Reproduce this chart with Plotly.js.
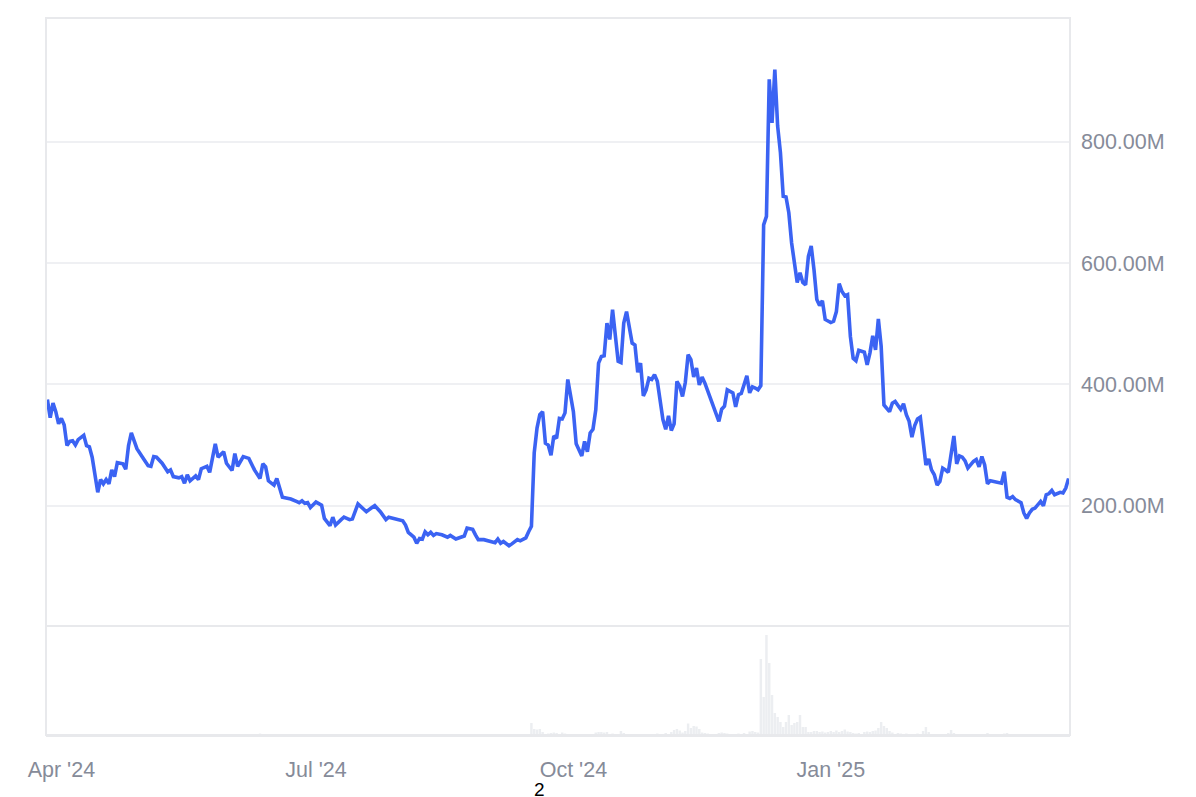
<!DOCTYPE html>
<html>
<head>
<meta charset="utf-8">
<script src="https://cdn.plot.ly/plotly-3.0.1.min.js"></script>
<style>
  html, body { margin: 0; padding: 0; background: #fff; }
  #plot { width: 1196px; height: 797px; }
</style>
</head>
<body>
<div id="plot"></div>
<script>
// days counted from 2024-04-01
const price_day = [-5,-4,-3,-2,-1,0,1,2,3,4,5,6,8,9,10,11,13,14,15,16,17,18,19,20,22,23,24,25,27,28,29,31,32,33,34,36,38,39,40,42,43,44,45,46,48,49,50,52,53,55,56,58,59,61,62,63,65,67,69,71,72,73,74,76,77,79,81,82,84,85,86,87,88,89,91,93,94,96,97,98,100,101,103,104,106,108,109,111,112,114,116,117,119,121,122,123,124,126,127,128,129,130,131,132,133,134,136,138,139,141,143,144,145,147,148,149,151,153,155,156,157,158,160,161,163,164,166,167,168,
  169,170,171,172,173,174,175,176,177,178,179,180,181,182,183,184,185,186,187,188,189,190,191,192,193,194,195,196,197,198,199,200,201,202,203,204,205,206,207,208,209,210,211,212,213,214,215,216,217,218,219,220,221,222,223,224,225,226,227,228,229,230,232,233,235,236,237,238,240,241,242,243,244,245,246,247,248,249,250,
  251,252,253,254,255,256,257,258,259,260,261,263,264,265,266,267,268,269,270,271,272,273,275,276,277,278,279,280,281,282,283,284,285,287,288,289,290,291,292,293,294,296,297,298,300,301,302,303,304,305,306,307,308,309,310,311,312,313,314,315,316,317,319,320,321,322,323,324,326,327,328,329,330,331,332,333,335,336,337,338,339,340,341,343,344,345,346,347,348,350,351,352,353,354,355,357,358,359,360]

// price, millions
const price = [375,345,369,355,335,344,333,299,306,307,300,309,316,299,297,280,222,243,236,243,236,259,248,271,269,260,299,320,294,288,280,266,265,281,280,270,256,259,248,246,248,237,251,241,249,243,261,265,255,302,280,289,270,258,286,265,281,278,259,245,269,264,241,234,245,214,212,211,207,205,208,204,205,197,206,201,179,167,181,168,177,181,177,178,203,194,190,197,200,190,177,181,178,175,175,168,156,148,138,146,145,157,152,156,151,154,152,148,151,145,148,150,163,161,152,144,144,141,139,145,138,141,134,137,144,142,147,157,166,
  287,328,350,355,303,300,283,315,311,344,343,353,408,380,355,302,293,282,306,289,320,326,358,435,446,447,501,474,523,485,438,436,501,520,496,468,465,420,435,381,391,410,408,416,405,375,342,326,348,324,335,405,397,380,403,449,441,412,427,399,412,402,377,366,339,359,364,391,386,363,383,385,402,414,386,396,394,391,398,
  663,677,903,831,919,826,782,710,709,683,633,568,584,568,564,611,628,589,540,530,538,507,502,504,520,566,553,546,548,479,443,439,456,453,432,452,480,457,508,463,366,355,369,372,359,368,350,339,313,332,343,346,303,267,277,259,251,234,240,262,259,255,315,269,282,280,274,262,273,276,264,281,267,236,241,240,238,237,256,214,212,215,210,205,188,179,188,194,196,207,200,218,220,225,218,222,221,229,245]

// volume bars that show above the baseline, millions
const vol_day = [71,168,169,170,171,172,174,175,176,177,179,180,185,191,192,193,194,195,197,200,201,205,210,213,216,218,219,220,221,222,223,224,225,226,227,228,229,230,231,233,235,236,237,238,240,242,244,246,247,248,249,
  250,251,252,253,254,255,256,257,258,259,260,261,262,263,264,265,266,267,268,269,270,271,272,273,274,275,276,277,278,279,280,281,282,283,284,285,287,288,289,290,291,292,293,294,295,296,297,299,300,302,304,306,308,309,310,313,317,318,319,323,331,337,338,345]
const vol = [15,120,60,55,60,30,15,20,25,20,25,15,10,25,30,30,25,30,15,40,20,10,10,15,20,30,50,60,45,25,40,115,70,90,85,60,25,20,15,10,20,25,20,15,10,15,20,35,40,30,25,
  760,380,1000,720,400,220,180,130,80,130,200,100,120,130,200,80,80,30,30,40,40,30,35,25,30,40,30,45,30,40,55,35,30,20,15,20,30,35,30,40,45,70,130,90,70,40,25,20,15,15,10,15,40,80,30,10,20,50,20,10,20,15,20,10]

const price_ticks = [200, 400, 600, 800]

const base = Date.UTC(2024, 3, 1)
function to_date(d) {
    return new Date(base + d * 86400000).toISOString().replace('T', ' ').slice(0, 16)
}

const axis_grey = '#e8e9ec'
const label_grey = '#868b99'
const font_family = 'Liberation Sans, Arial, sans-serif'

const data = []

// volume underneath
data.push({type: 'bar', x: vol_day.map(to_date), y: vol, xaxis: 'x', yaxis: 'y2',
           marker: {color: '#eceef1', line: {width: 0}}, hoverinfo: 'none', showlegend: false})

// price line
data.push({type: 'scatter', mode: 'lines', x: price_day.map(to_date), y: price, xaxis: 'x', yaxis: 'y',
           line: {color: '#3b63f3', width: 3.6, shape: 'linear'}, hoverinfo: 'none', showlegend: false})

const vol_top = (735 - 627) / 717

const layout = {
    width: 1196, height: 797,
    margin: {l: 46, r: 126, t: 18, b: 62},
    paper_bgcolor: '#ffffff', plot_bgcolor: '#ffffff',
    font: {family: font_family, size: 21.5, color: label_grey},
    showlegend: false,
    hovermode: false,
    bargap: 0.12,
    xaxis: {type: 'date', anchor: 'y2',
            range: [to_date(-5.5), to_date(360.5)],
            tick0: '2024-04-01', dtick: 'M3', tickformat: "%b '%y",
            showgrid: false, zeroline: false, ticks: '',
            showline: true, mirror: true, linecolor: axis_grey, linewidth: 2,
            ticklabelstandoff: 14,
            tickfont: {family: font_family, size: 21.5, color: label_grey}},
    yaxis: {domain: [vol_top, 1], range: [0, 1004], side: 'right', anchor: 'x',
            tickvals: price_ticks, ticktext: price_ticks.map(v => v.toFixed(2) + 'M'),
            showgrid: true, gridcolor: '#eff0f3', gridwidth: 2, zeroline: false, ticks: '',
            showline: false, ticklabelstandoff: 10,
            tickfont: {family: font_family, size: 21.5, color: label_grey}},
    yaxis2: {domain: [0, vol_top], range: [0, 1080], anchor: 'x',
             showgrid: false, zeroline: false, showticklabels: false, ticks: '', showline: false},
    shapes: [{type: 'rect', xref: 'paper', yref: 'paper', x0: 0, x1: 1, y0: 0, y1: 1,
              line: {color: axis_grey, width: 2}, layer: 'above'}],
    annotations: [{text: '2', xref: 'paper', yref: 'paper', x: 0.4819, y: -0.0755,
                   xanchor: 'center', yanchor: 'middle', showarrow: false,
                   font: {family: font_family, size: 19, color: '#000000'}}]
}

Plotly.newPlot(document.getElementById('plot'), data, layout, {displayModeBar: false, staticPlot: true})
</script>
</body>
</html>
